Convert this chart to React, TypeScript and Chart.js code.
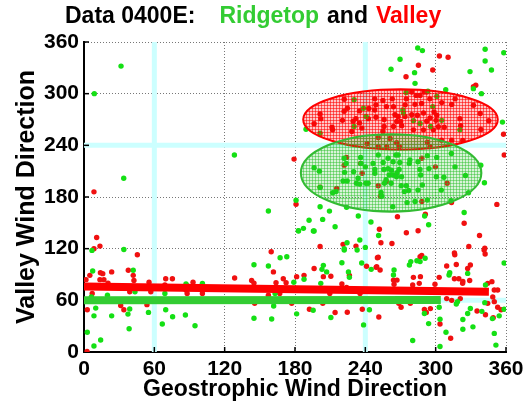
import { useEffect, useRef } from "react";
import { Chart, registerables } from "chart.js";

Chart.register(...registerables);

const axisTicks = [0, 60, 120, 180, 240, 300, 360];
const referenceLines = [60, 240];

const redLineX = [0, 342];
const redLineY = [76, 70];
const greenLineX = [0, 301];
const greenLineY = [60, 60.5];

// [centerX, centerY, radiusX, radiusY]
const redEllipse = [270, 270, 83, 35];
const greenEllipse = [262, 208, 77, 45];

const titleParts = ["Data 0400E:", "Ridgetop", "and", "Valley"];
const titleColors = ["#000000", "#33cc33", "#000000", "#ff0000"];

const redPoints: number[][] = [
  [8.5,186],[10.8,133],[13.6,123],[8.5,120],[45.5,113],[1.7,84],[5,89],[14,92],[16,91],[23.6,93],[13.6,84],[17,84],[20.5,80],[37.8,95],[42,89],[42.6,83],[39,70],[2.8,49],[2.6,0.5],[31.3,54],[34,49],[53.7,55],[55.5,81],[57,70],[69.7,85],[69,78],[75.4,85],[93,81],[87,72],[69.7,76],[88,77],[88,68],[101,68],[128.5,86],[7,68],
  [161.6,93],[143,83],[145,80],[163.8,80.5],[170,85],[172.4,80.5],[181.4,87.5],[187.7,89],[196.3,97],[204.2,87.5],[210.6,88],[226.4,89],[220,79],[241,99.5],[249.7,99],[250.3,109.5],[235.5,68],[159.7,116.5],[145.6,56.5],[192.3,49.7],[214.2,45.8],[224.6,46.2],[237.4,49.7],[251.5,40.6],[177.2,56.5],[203.7,56.5],[157.3,66],[167,68],[209.7,68],[224,75],
  [251,110],[288.1,112],[249.2,98.3],[252.6,95.2],[264,83.5],[267,83.5],[264.5,78.6],[281,86.7],[287,87.5],[280.4,77.8],[286,79.7],[299.4,78.6],[303,86.7],[268.5,56.5],[270.5,52],[278.4,56.5],[290.4,49.3],[295.5,50.4],[292,46],[303.7,32.5],[312.8,16],[316.3,113],[342.2,113.8],[341.3,118.5],[309.4,99.8],[317.6,101.7],[329.6,101],[327.3,97],[316,85],[319.8,85],[323.2,82],[329,83],[323,79.7],[344.4,79.7],[348,81.7],[350,72],[352.9,72],[348.7,64],[344.4,56.5],[350,58.5],[352.9,52],[355.8,49],[309.4,62],[313.7,60],[321,62],[335.3,47.6],[342.5,43.3],[349.1,39.8],[286.7,110.7],
  [179.2,224],[180.9,171.5],[267.4,157],[252,142.6],[253.3,126.8],[262.7,126],[275,138.5],[285,140.8],[291.2,160],[324.3,149.6],[337.4,135.3],[352.2,171.4],[357.9,252.9],[358.5,228.7],[313.5,173.6],[221,125],[232,123],[201.4,122.5],[328.3,122.5],[341.9,120.5],[316,115],
  [224,226],[222,217],[235.9,219],[237.3,207.6],[251,193],[252.9,180.8],[257.8,198],[288.2,225],[299.8,215],[309.8,196],[201.4,191.5],[215.6,190],[288.2,174.8],
  [251,249],[261.1,248],[266.8,243],[258.2,238.5],[251,238.5],[241.6,242],[293,243.5],[295.2,238.5],[269,238.5],
  [279.6,302],[286.7,298],[292.4,302],[248,294],[255,292],[263,294],[258,285],[249,287],[248,281],[243,282.7],[235,280],[224.7,283],[221.9,279.5],[201.4,276.5],[202,271],[196.3,265],[211.6,261],[212.1,258],[220.5,269],[229.6,268],[232,271],[235,266],[237,260],[228.5,256],[242.6,271],[249.1,272.7],[256,270],[256,262],[255,256.5],[264,284.8],[265.3,275.6],[268,273.6],[273.8,273.6],[270.1,267.8],[266.8,267.8],[264,262],[271,262.8],[274,287],[282.4,287.6],[283.3,298],[288,288.5],[279.6,275.6],[284.4,275],[289.6,277.6],[292.4,268],[295.2,271.7],[298.6,278.7],[300.9,275],[300.3,269],[302.3,261.5],[298,258],[307.3,261],[305.2,289.6],[313.7,287.5],[316.6,294],[332.2,286.5],[320.7,271],[321.3,262.8],[338,277],[345.3,268.6],[338.6,258.5],[289.6,258],[281,258],[305,246],[313.7,246],[323.1,245.8],[222,293.5],[275,294],[295,294],
  [303.2,343.8],[310.6,342.3],[285.3,333],[297.5,327.5],[274.7,319.7],[334.2,309.7],[332.2,308],[290,302]
];

const greenPoints: number[][] = [
  [31.6,332],[8.8,300],[33.9,201.7],[6.8,118],[34,119],[7.4,94],[20,66],[42,95],[43.5,70],[2.8,23],[8.5,42],[10,51],[8.5,7],[14.2,14],[37.5,44],[39,50],[38.5,27],[23.6,42],[55,46],[69.7,49],[66.8,32.5],[69,68],[75.6,41],[86.5,43],[94.7,30.5],[87,79],[101,79.7],[6.3,64],
  [145,101.4],[157.3,99.8],[167.3,109.5],[173,110.7],[179,81],[187.7,84.4],[204.2,100.6],[203,96],[207,93],[202,79.7],[220,103.7],[225.6,93],[226.4,86.7],[236.9,103.3],[245,96],[222,118.5],[233,118.5],[161.8,53.5],[145,39.2],[160.1,38.4],[181.4,44.3],[195.5,48.5],[210.6,40],[243.5,49],[238.5,31.5],[163,68],[183,140.5],[195.7,140.5],
  [291,108.8],[278.8,105],[277.6,101],[284,106],[286.7,105],[264.5,95.2],[264,89.5],[290.4,44.7],[294,33],[303,52],[303.7,38],[308.8,23],[303.7,6.4],[280.4,13.4],[358.4,103.3],[327.3,91.3],[311.4,89.5],[312,92],[342.5,77.8],[341.9,57.3],[358.4,49.7],[318.6,58.5],[317.6,55.7],[329.6,50.5],[327.3,44.7],[339.4,47.2],[354.2,42],[348.4,38.8],[323.2,37.7],[331.8,29.2],[323.2,26.5],[350,21.6],[351.4,8],
  [128.3,228.8],[157.3,163.7],[180.9,176.3],[201.4,168.7],[209.4,163.6],[203.6,154],[192,153],[187.2,143.6],[182.9,141],[196.3,140.6],[214.2,145.5],[234,158],[244.8,151],[251.3,135.3],[290.6,158],[294,147.7],[324.3,162],[235.3,130],[224.4,126.8],[222,120],[240,121.5],[341.6,196.5],[357,267],[189.4,258.6],
  [196.3,214],[200.8,210],[221.9,225],[223.6,219],[236,226],[236.3,219],[230,209.3],[222.3,208.6],[221,198.6],[224.5,198.6],[233.8,201.7],[232.4,196],[235.3,195],[240.4,196],[242.4,196],[246.6,219],[248.1,212],[248.1,207.5],[251,228.8],[255.2,220],[259.4,225],[263.7,221],[266,228.8],[268,228.8],[255.8,212],[259.4,213],[262.3,211],[260.3,205.6],[263.7,205.6],[267,208.3],[268.8,212],[269.4,220],[270.9,203.6],[266.6,203.6],[275,193],[270.6,193],[262,196],[256.3,196],[257.7,200],[253.4,185.3],[254,180.8],[278,223],[277.5,219],[284.9,221],[292.9,228],[300.9,226],[286.6,212],[294.3,213],[287.2,205.6],[288.6,194],[284.9,188],[277,187.5],[273.3,186.3],[300.6,203.6],[304.8,188],[307,203],[316.5,215],[313.4,230.6],[325.4,205],[338.5,217],[328,185],[313,175.6],[292.9,176.6],[282.4,174.7],[275.6,173.5],[263.4,168.8],[224,168],[212.2,185],[215,186.3],[201.4,191],[240,215],
  [238.4,283],[230.4,293],[201.4,254],[230.4,262],[240.6,273.6],[272,281],[272.5,277.6],[281,268.6],[286.7,265.5],[297.5,285],[305.2,269],[295.7,262],[320.7,258],[284.7,353],[288.7,350],[342.2,351.5],[358.1,347.6],[342.2,338],[269.6,340],[261.9,328.3],[282,324.4],[329.3,325.6],[347.6,327.5],[282.4,312],[332.2,305.8],[308.6,304.6],[339,300],[301,296.8],[274.8,301.3],[293.4,303]
];

const FONT = "'Liberation Sans', Arial, Helvetica, sans-serif";

function makePattern(ctx: CanvasRenderingContext2D, rgb: string, lo: number, hi: number) {
  const c = document.createElement("canvas");
  c.width = 3;
  c.height = 3;
  const p = c.getContext("2d")!;
  p.fillStyle = `rgba(${rgb},${lo})`;
  p.fillRect(0, 0, 3, 3);
  p.fillStyle = `rgba(${rgb},${hi})`;
  p.fillRect(0, 0, 3, 1);
  p.fillRect(0, 0, 1, 3);
  return ctx.createPattern(c, "repeat");
}

const decorPlugin = {
  id: "decor",
  beforeDatasetsDraw(chart: any) {
    const { ctx, chartArea: a, scales } = chart;
    const xs = scales.x, ys = scales.y;
    ctx.save();
    ctx.strokeStyle = "#ccffff";
    ctx.lineWidth = 5;
    referenceLines.forEach((v) => {
      const px = xs.getPixelForValue(v);
      ctx.beginPath();
      ctx.moveTo(px, a.top);
      ctx.lineTo(px, a.bottom);
      ctx.stroke();
      const py = ys.getPixelForValue(v);
      ctx.beginPath();
      ctx.moveTo(a.left, py);
      ctx.lineTo(a.right, py);
      ctx.stroke();
    });
    ctx.strokeStyle = "#000";
    ctx.lineWidth = 1.5;
    axisTicks.forEach((v) => {
      const px = xs.getPixelForValue(v);
      ctx.beginPath();
      ctx.moveTo(px, a.bottom);
      ctx.lineTo(px, a.bottom - 5);
      ctx.stroke();
      const py = ys.getPixelForValue(v);
      ctx.beginPath();
      ctx.moveTo(a.left, py);
      ctx.lineTo(a.left + 5, py);
      ctx.stroke();
    });
    ctx.restore();
  },
  beforeDatasetDraw(chart: any, args: any) {
    if (args.index !== 1) return;
    const { ctx, scales } = chart;
    const xs = scales.x, ys = scales.y;
    const draw = (e: number[], rgb: string, stroke: string, lo: number, hi: number) => {
      const cx = xs.getPixelForValue(e[0]);
      const cy = ys.getPixelForValue(e[1]);
      const rx = Math.abs(xs.getPixelForValue(e[0] + e[2]) - cx);
      const ry = Math.abs(ys.getPixelForValue(e[1] + e[3]) - cy);
      ctx.save();
      ctx.beginPath();
      ctx.ellipse(cx, cy, rx, ry, 0, 0, Math.PI * 2);
      ctx.fillStyle = makePattern(ctx, rgb, lo, hi);
      ctx.fill();
      ctx.lineWidth = 2;
      ctx.strokeStyle = stroke;
      ctx.stroke();
      ctx.restore();
    };
    draw(redEllipse, "255,0,0", "#ff0000", 0.22, 0.55);
    draw(greenEllipse, "40,190,40", "#33bb33", 0.18, 0.45);
  },
  afterDraw(chart: any) {
    const { ctx } = chart;
    ctx.save();
    ctx.font = `bold 23px ${FONT}`;
    ctx.textBaseline = "alphabetic";
    ctx.textAlign = "left";
    const gaps = [24, 8, 8, 0];
    let x = 65;
    titleParts.forEach((t, i) => {
      ctx.fillStyle = titleColors[i];
      ctx.fillText(t, x, 23);
      x += ctx.measureText(t).width + gaps[i];
    });
    ctx.restore();
  },
};

export default function App() {
  const ref = useRef<HTMLCanvasElement>(null);
  useEffect(() => {
    const canvas = ref.current!;
    const chart = new Chart(canvas, {
      type: "scatter",
      data: {
        datasets: [
          {
            type: "line",
            label: "Valley mean",
            data: redLineX.map((x, i) => ({ x, y: redLineY[i] })),
            borderColor: "#ff0000",
            borderWidth: 8,
            borderCapStyle: "square",
            pointRadius: 0,
            fill: false,
          } as any,
          {
            type: "line",
            label: "Ridgetop mean",
            data: greenLineX.map((x, i) => ({ x, y: greenLineY[i] })),
            borderColor: "#33cc33",
            borderWidth: 8,
            borderCapStyle: "square",
            pointRadius: 0,
            fill: false,
          } as any,
          {
            label: "Ridgetop",
            data: greenPoints.map((p) => ({ x: p[0], y: p[1] })),
            pointRadius: 2.7,
            pointBorderWidth: 0,
            pointBackgroundColor: "#14e014",
            pointBorderColor: "#14e014",
          },
          {
            label: "Valley",
            data: redPoints.map((p) => ({ x: p[0], y: p[1] })),
            pointRadius: 2.7,
            pointBorderWidth: 0,
            pointBackgroundColor: "#f01010",
            pointBorderColor: "#f01010",
          },
        ],
      },
      plugins: [decorPlugin],
      options: {
        animation: false,
        responsive: false,
        events: [],
        layout: { padding: { top: 42, right: 23, left: 0, bottom: 0 } },
        plugins: { legend: { display: false }, tooltip: { enabled: false } },
        scales: {
          x: {
            type: "linear",
            min: 0,
            max: 360,
            afterBuildTicks: (s: any) => {
              s.ticks = axisTicks.map((v) => ({ value: v }));
            },
            afterFit: (s: any) => {
              s.height = 50;
            },
            ticks: {
              color: "#000",
              padding: 5,
              font: { family: FONT, size: 21, weight: "bold" },
              maxRotation: 0,
            },
            grid: { color: "#777", lineWidth: 1, drawTicks: false },
            border: { display: true, color: "#000", width: 2, dash: [1, 2] },
            title: {
              display: true,
              text: "Geostrophic Wind Direction",
              color: "#000",
              font: { family: FONT, size: 23, weight: "bold" },
              padding: { top: 0, bottom: -1 },
            },
          },
          y: {
            type: "linear",
            min: 0,
            max: 360,
            afterBuildTicks: (s: any) => {
              s.ticks = axisTicks.map((v) => ({ value: v }));
            },
            afterFit: (s: any) => {
              s.width = 84;
            },
            ticks: {
              color: "#000",
              padding: 5,
              font: { family: FONT, size: 21, weight: "bold" },
            },
            grid: { color: "#777", lineWidth: 1, drawTicks: false },
            border: { display: true, color: "#000", width: 2, dash: [1, 2] },
            title: {
              display: true,
              text: "Valley Wind Direction",
              color: "#000",
              font: { family: FONT, size: 25, weight: "bold" },
              padding: { top: 12, bottom: 0 },
            },
          },
        },
      },
    });
    return () => chart.destroy();
  }, []);
  return (
    <div style={{ position: "fixed", left: 0, top: 0, width: 529, height: 402, background: "#fff" }}>
      <canvas ref={ref} width={529} height={402} />
    </div>
  );
}
